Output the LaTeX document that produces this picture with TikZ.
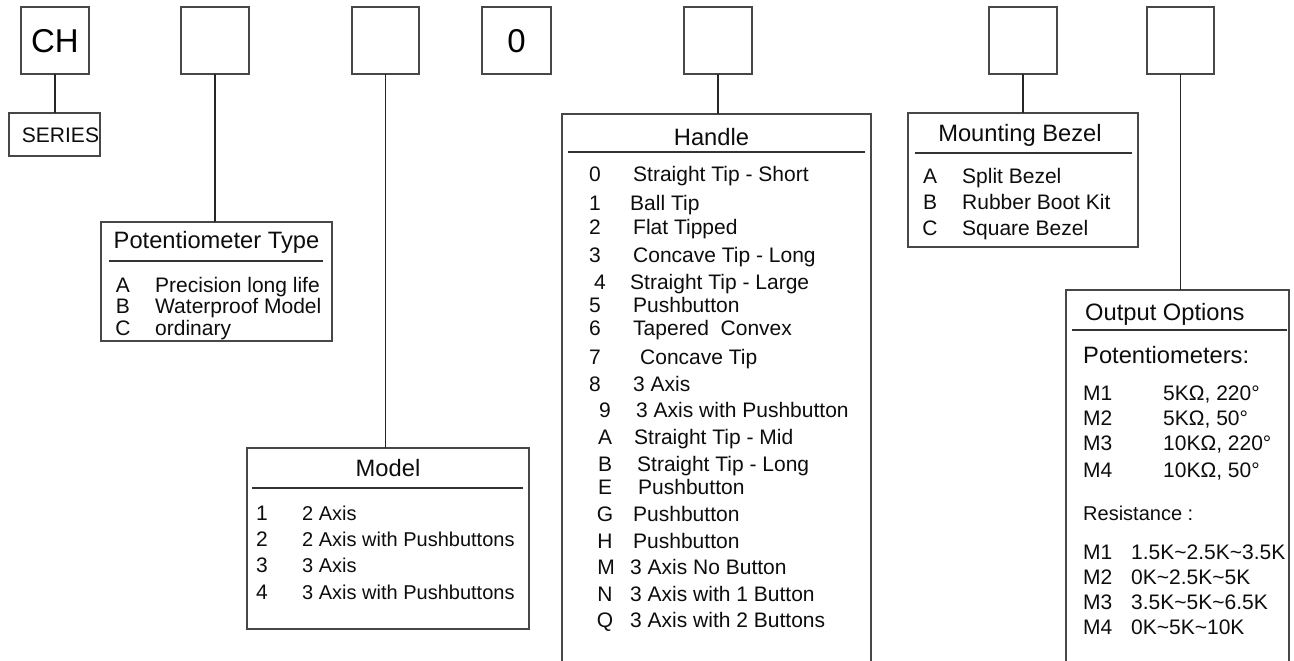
\documentclass[tikz,border=0pt]{standalone}
\usepackage{fontspec}
\setmainfont{Liberation Sans}
\begin{document}
\begin{tikzpicture}[x=1pt,y=-1pt,
  bx/.style={draw=black!72, line width=1.4pt, inner sep=0pt, outer sep=0pt, anchor=north west},
  conn/.style={draw=black!85, line width=1.2pt},
  uline/.style={draw=black!80, line width=1.2pt},
  ttl/.style={font=\fontsize{23.7}{24}\selectfont, anchor=base, inner sep=0pt, text=black!95},
  ttlw/.style={font=\fontsize{23.7}{24}\selectfont, anchor=base west, inner sep=0pt, text=black!95},
  row/.style={font=\fontsize{21}{22}\selectfont, anchor=base west, inner sep=0pt, text=black!95},
  rowc/.style={font=\fontsize{20}{22}\selectfont, anchor=base west, inner sep=0pt, text=black!95},
  key/.style={font=\fontsize{21}{22}\selectfont, anchor=base, inner sep=0pt, text=black!95},
  big/.style={font=\fontsize{33}{34}\selectfont, inner sep=0pt, text=black}]
\useasboundingbox (0,0) rectangle (1294,661);
\clip (0,0) rectangle (1294,661);
\fill[white] (0,0) rectangle (1294,661);

% top code boxes
\node[bx, minimum width=68, minimum height=67] (b1) at (21,7) {};
\node[bx, minimum width=68, minimum height=67] (b2) at (181,7) {};
\node[bx, minimum width=67, minimum height=67] (b3) at (352,7) {};
\node[bx, minimum width=69, minimum height=67] (b4) at (482,7) {};
\node[bx, minimum width=68, minimum height=67] (b5) at (684,7) {};
\node[bx, minimum width=68, minimum height=67] (b6) at (989,7) {};
\node[bx, minimum width=67, minimum height=67] (b7) at (1147,7) {};
\node[big, anchor=base] (chtxt) at (55,52.5) {CH};
\node[big, anchor=base] (zerotxt) at (516.5,52.5) {0};

% SERIES
\node[bx, minimum width=91, minimum height=43] (series) at (9,113) {};
\node[key] (seriestxt) at (60.5,142.5) {SERIES};
\draw[conn] (b1.south) -- (b1.south |- series.north);

% Potentiometer Type
\node[bx, minimum width=231, minimum height=119] (pt) at (101,222) {};
\draw[conn] (b2.south) -- (b2.south |- pt.north);
\node[ttl] (pttl) at (216.5,248.5) {Potentiometer Type};
\draw[uline] (109,261) -- (323,261);
\node[key] (ptka) at (123,292) {A};
\node[row] (ptta) at (155,292) {Precision long life};
\node[key] (ptkb) at (123,313.5) {B};
\node[row] (pttb) at (155,313.5) {Waterproof Model};
\node[key] (ptkc) at (123,335) {C};
\node[row] (pttc) at (155,335) {ordinary};

% Model
\node[bx, minimum width=282, minimum height=181] (model) at (247,448) {};
\draw[conn] (b3.south) -- (b3.south |- model.north);
\node[ttl] (mttl) at (388,476.5) {Model};
\draw[uline] (252,488) -- (523,488);
\node[key] (mk1) at (262,520.5) {1};
\node[rowc] (mt1) at (302,520.5) {2 Axis};
\node[key] (mk2) at (262,546.5) {2};
\node[rowc] (mt2) at (302,546.5) {2 Axis with Pushbuttons};
\node[key] (mk3) at (262,572.5) {3};
\node[rowc] (mt3) at (302,572.5) {3 Axis};
\node[key] (mk4) at (262,599.5) {4};
\node[rowc] (mt4) at (302,599.5) {3 Axis with Pushbuttons};

% Handle
\node[bx, minimum width=309, minimum height=600] (handle) at (562,114) {};
\draw[conn] (b5.south) -- (b5.south |- handle.north);
\node[ttl] (httl) at (711.5,145.5) {Handle};
\draw[uline] (568,152) -- (865,152);
\node[key] (hk0) at (595,181.5) {0}; \node[row] (ht0) at (633,181.5) {Straight Tip - Short};
\node[key] (hk1) at (595,210.5) {1}; \node[row] (ht1) at (630,210.5) {Ball Tip};
\node[key] (hk2) at (595,234.5) {2}; \node[row] (ht2) at (633,234.5) {Flat Tipped};
\node[key] (hk3) at (595,262.5) {3}; \node[row] (ht3) at (633,262.5) {Concave Tip - Long};
\node[key] (hk4) at (600,289.5) {4}; \node[row] (ht4) at (630,289.5) {Straight Tip - Large};
\node[key] (hk5) at (595,312.5) {5}; \node[row] (ht5) at (633,312.5) {Pushbutton};
\node[key] (hk6) at (595,335.5) {6}; \node[row] (ht6) at (633,335.5) {Tapered\ \ Convex};
\node[key] (hk7) at (595,364.5) {7}; \node[row] (ht7) at (640,364.5) {Concave Tip};
\node[key] (hk8) at (595,391.5) {8}; \node[row] (ht8) at (633,391.5) {3 Axis};
\node[key] (hk9) at (605,417.5) {9}; \node[row] (ht9) at (636,417.5) {3 Axis with Pushbutton};
\node[key] (hkA) at (605,444.5) {A}; \node[row] (htA) at (634,444.5) {Straight Tip - Mid};
\node[key] (hkB) at (605,471.5) {B}; \node[row] (htB) at (637,471.5) {Straight Tip - Long};
\node[key] (hkE) at (605,494.5) {E}; \node[row] (htE) at (638,494.5) {Pushbutton};
\node[key] (hkG) at (605,521.5) {G}; \node[row] (htG) at (633,521.5) {Pushbutton};
\node[key] (hkH) at (605,548.5) {H}; \node[row] (htH) at (633,548.5) {Pushbutton};
\node[key] (hkM) at (606,574.5) {M}; \node[row] (htM) at (630,574.5) {3 Axis No Button};
\node[key] (hkN) at (605,601.5) {N}; \node[row] (htN) at (630,601.5) {3 Axis with 1 Button};
\node[key] (hkQ) at (605,627.5) {Q}; \node[row] (htQ) at (630,627.5) {3 Axis with 2 Buttons};

% Mounting Bezel
\node[bx, minimum width=230, minimum height=134] (mb) at (908,113) {};
\draw[conn] (b6.south) -- (b6.south |- mb.north);
\node[ttl] (mbttl) at (1020,141.5) {Mounting Bezel};
\draw[uline] (915,153) -- (1132,153);
\node[key] (mbka) at (930,183.5) {A}; \node[row] (mbta) at (962,183.5) {Split Bezel};
\node[key] (mbkb) at (930,209.5) {B}; \node[row] (mbtb) at (962,209.5) {Rubber Boot Kit};
\node[key] (mbkc) at (930,235.5) {C}; \node[row] (mbtc) at (962,235.5) {Square Bezel};

% Output Options
\node[bx, minimum width=223, minimum height=420] (oo) at (1066,290) {};
\draw[conn] (b7.south) -- (b7.south |- oo.north);
\node[ttlw] (ottl) at (1085,320.5) {Output Options};
\draw[uline] (1072,330) -- (1287,330);
\node[ttlw] (opot) at (1083,363.5) {Potentiometers:};
\node[row] (om1) at (1083,400.5) {M1}; \node[row] (ov1) at (1163,400.5) {5KΩ, 220°};
\node[row] (om2) at (1083,425.5) {M2}; \node[row] (ov2) at (1163,425.5) {5KΩ, 50°};
\node[row] (om3) at (1083,450.5) {M3}; \node[row] (ov3) at (1163,450.5) {10KΩ, 220°};
\node[row] (om4) at (1083,477.5) {M4}; \node[row] (ov4) at (1163,477.5) {10KΩ, 50°};
\node[rowc] (ores) at (1083,520) {Resistance :};
\node[row] (or1) at (1083,559.5) {M1}; \node[row] (orv1) at (1131,559.5) {1.5K\char`\~2.5K\char`\~3.5K};
\node[row] (or2) at (1083,584.5) {M2}; \node[row] (orv2) at (1131,584.5) {0K\char`\~2.5K\char`\~5K};
\node[row] (or3) at (1083,609.5) {M3}; \node[row] (orv3) at (1131,609.5) {3.5K\char`\~5K\char`\~6.5K};
\node[row] (or4) at (1083,634.5) {M4}; \node[row] (orv4) at (1131,634.5) {0K\char`\~5K\char`\~10K};
\end{tikzpicture}
\end{document}
